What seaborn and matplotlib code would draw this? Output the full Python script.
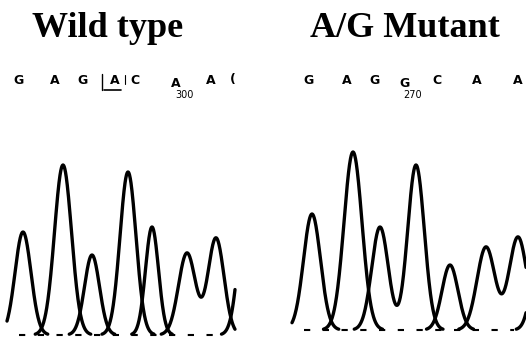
import numpy as np
import pandas as pd
import matplotlib
matplotlib.use("Agg")
import matplotlib.pyplot as plt
import seaborn as sns

# chromatogram peaks: base channel, centre (scan pos), height, width (sigma)
wt_channel = ['G', 'A', 'G', 'A', 'C', 'A', 'A', 'C']
wt_center = [23, 63, 92, 128, 152, 187, 216, 247]
wt_height = [103, 170, 80, 163, 108, 82, 97, 140]
wt_width = [8.0, 8.5, 7.5, 8.0, 6.5, 8.5, 8.0, 8.0]
wt_scan = (7, 235)

mut_channel = ['G', 'A', 'G', 'G', 'C', 'A', 'A', 'T']
mut_center = [49, 90, 117, 153, 187, 223, 255, 278]
mut_height = [116, 178, 103, 165, 65, 83, 93, 100]
mut_width = [8.5, 9.0, 8.3, 8.3, 8.0, 9.0, 9.0, 8.0]
mut_scan = (29, 263)

# base calls printed above the traces
wt_calls = ['G', 'A', 'G', 'A', 'C', 'A', 'A', '(']
wt_call_pos = [18, 55, 83, 115, 135, 176, 211, 233]
wt_numbered = 5
wt_number = '300'
wt_marked = 3

mut_calls = ['G', 'A', 'G', 'G', 'C', 'A', 'A']
mut_call_pos = [45, 84, 111, 142, 174, 214, 255]
mut_numbered = 3
mut_number = '270'

titles = ['Wild type', 'A/G Mutant']


def traces(channel, center, height, width, scan):
    x = np.arange(scan[0], scan[1] + 0.01, 0.25)
    frames = []
    seg = 0
    for ch in dict.fromkeys(channel):
        y = np.zeros_like(x)
        for c, cen, h, w in zip(channel, center, height, width):
            if c == ch:
                y += h * np.exp(-0.5 * ((x - cen) / w) ** 2)
        on = y > 0.8
        run = np.cumsum(np.r_[True, on[1:] != on[:-1]])
        for r in np.unique(run[on]):
            m = run == r
            frames.append(pd.DataFrame({'scan': x[m], 'signal': y[m], 'seg': seg}))
            seg += 1
    return pd.concat(frames, ignore_index=True)


sns.set_theme(style='white')
plt.rcParams['font.family'] = ['DejaVu Sans']
plt.rcParams['text.color'] = 'black'

fig = plt.figure(figsize=(5.26, 3.37), dpi=100)
H = 337.0
ROW_Y = 80


def yfrac(y_img):
    return 1 - y_img / H


def panel(ax, df, base, scan, calls, pos, numbered, number, title, title_x):
    sns.lineplot(data=df, x='scan', y='signal', units='seg', estimator=None,
                 sort=False, color='black', lw=2.4, ax=ax, legend=False)
    ax.set_xlim(0, 263)
    ax.set_ylim(base - H, base)
    ax.hlines(0, scan[0] + 12, scan[1] - 12, color='black', lw=1.5,
              linestyles=(0, (3, 6)))
    ax.axis('off')
    tr = ax.get_xaxis_transform()
    for i, (s, p) in enumerate(zip(calls, pos)):
        y = ROW_Y + 4 if i == numbered else ROW_Y
        ax.text(p, yfrac(y), s, transform=tr, ha='center', va='center',
                fontsize=9, fontweight='bold', color='black')
    ax.text(pos[numbered] + 8, yfrac(ROW_Y + 15), number, transform=tr,
            ha='center', va='center', fontsize=7, color='black')
    fig.text(title_x / 526, yfrac(37), title, ha='center', va='baseline',
             fontsize=26, fontweight='bold', family='Liberation Serif',
             color='black')


ax_l = fig.add_axes([0, 0, 0.5, 1])
ax_r = fig.add_axes([0.5, 0, 0.5, 1])

panel(ax_l, traces(wt_channel, wt_center, wt_height, wt_width, wt_scan), 335,
      wt_scan, wt_calls, wt_call_pos, wt_numbered, wt_number, titles[0], 108)
panel(ax_r, traces(mut_channel, mut_center, mut_height, mut_width, mut_scan), 330,
      mut_scan, mut_calls, mut_call_pos, mut_numbered, mut_number, titles[1], 405)

# bracket round the called base in the wild type
tr = ax_l.get_xaxis_transform()
p = wt_call_pos[wt_marked]
ax_l.plot([p - 13, p - 13], [yfrac(ROW_Y - 6), yfrac(ROW_Y + 10)], transform=tr,
          color='black', lw=1)
ax_l.plot([p - 11, p + 6], [yfrac(ROW_Y + 10), yfrac(ROW_Y + 10)], transform=tr,
          color='black', lw=1.2)
ax_l.plot([p + 10, p + 10], [yfrac(ROW_Y - 5), yfrac(ROW_Y + 4)], transform=tr,
          color='black', lw=0.8)

fig.savefig('out.png', dpi=100)
